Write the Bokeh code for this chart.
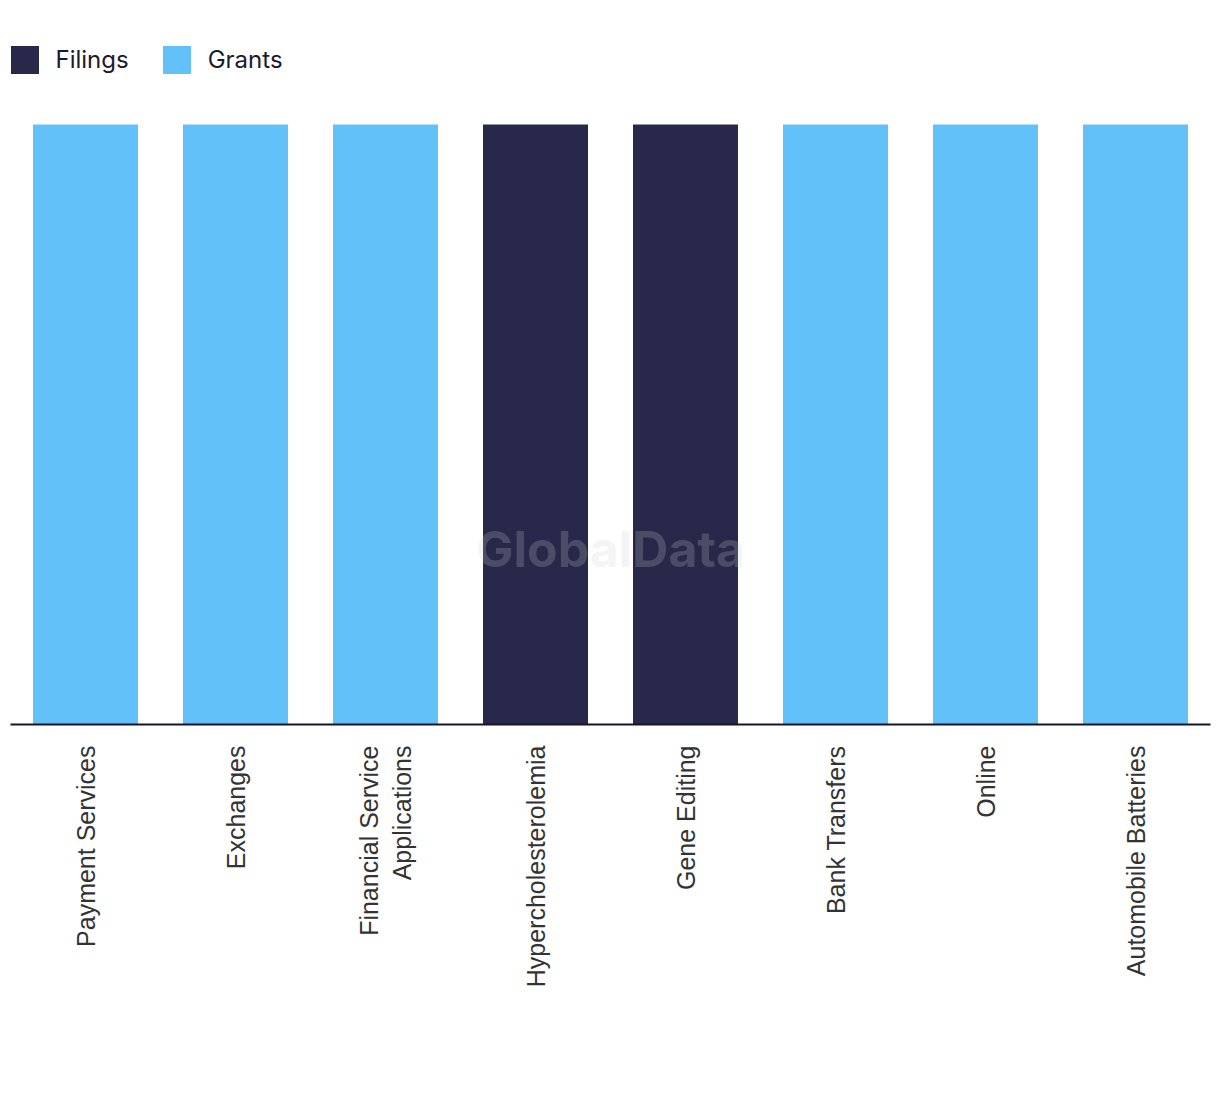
import math
from bokeh.plotting import figure
from bokeh.models import FactorRange, Range1d, Legend, LegendItem, Label
from bokeh.embed import file_html
from bokeh.resources import INLINE

categories = ["Payment Services", "Exchanges", "Financial Service\nApplications",
              "Hypercholesterolemia", "Gene Editing", "Bank Transfers", "Online",
              "Automobile Batteries"]
filings = [0, 0, 0, 100, 100, 0, 0, 0]
grants = [100, 100, 100, 0, 0, 100, 100, 100]
series = ["Filings", "Grants"]
colors = ["#27284A", "#62C1F8"]

data = {"cat": categories, "Filings": filings, "Grants": grants}

# frame from y=40 to y=724 on the page; bars (100) reach y=124
p = figure(x_range=FactorRange(*categories, range_padding=0), y_range=Range1d(0, 114),
           width=1220, height=1080, output_backend="svg", toolbar_location=None,
           min_border_left=10, min_border_right=10, min_border_top=40, min_border_bottom=356)

r = p.vbar_stack(series, x="cat", width=0.7, color=colors, source=data, line_width=0)

p.yaxis.visible = False
p.xgrid.visible = False
p.ygrid.visible = False
p.outline_line_color = None
p.background_fill_color = "white"
p.border_fill_color = "white"

ax = p.xaxis[0]
ax.axis_line_color = "#15152a"
ax.axis_line_width = 2
ax.major_tick_line_color = None
ax.minor_tick_line_color = None
ax.major_label_orientation = math.pi / 2
ax.major_label_text_font = "Liberation Sans"
ax.major_label_text_font_size = "25px"
ax.major_label_text_color = "#333333"
ax.major_label_standoff = 15

legend = Legend(items=[LegendItem(label=s, renderers=[rr]) for s, rr in zip(series, r)],
                orientation="horizontal", location=(-3.5, 647.5), padding=0, margin=0,
                spacing=30, glyph_width=35, glyph_height=35, label_standoff=14,
                label_text_font="Inter", label_text_font_size="24px",
                label_text_color="#1a1a2e", border_line_color=None,
                background_fill_alpha=0)
p.add_layout(legend, "center")

wm = Label(x=4, y=29.3, text="GlobalData", text_align="center", text_baseline="middle",
           text_font="Inter", text_font_style="bold", text_font_size="50px",
           text_color="#cfcfcf", text_alpha=0.22)
p.add_layout(wm)

open("out.html", "w").write(file_html(p, INLINE))
